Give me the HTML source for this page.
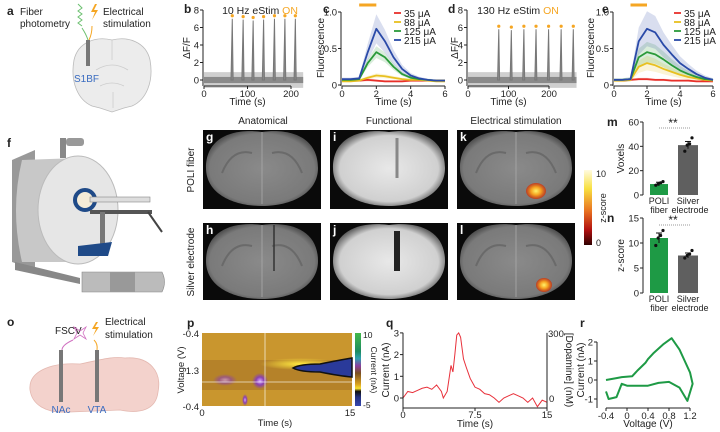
<!DOCTYPE html>
<html><head><meta charset="utf-8"><style>
html,body{margin:0;padding:0;background:#fff;}
svg{display:block;font-family:"Liberation Sans",sans-serif;}
text{fill:#222;}
</style></head><body>
<svg id="fig" width="720" height="432" viewBox="0 0 720 432" xmlns="http://www.w3.org/2000/svg">
<defs>
<radialGradient id="brainG" cx="50%" cy="50%" r="55%"><stop offset="0" stop-color="#8a8a8a"/><stop offset="0.85" stop-color="#7a7a7a"/><stop offset="1" stop-color="#4a4a4a"/></radialGradient>
<radialGradient id="funcG" cx="50%" cy="50%" r="55%"><stop offset="0" stop-color="#e8e8e8"/><stop offset="0.8" stop-color="#d0d0d0"/><stop offset="1" stop-color="#555"/></radialGradient>
<radialGradient id="hotG" cx="50%" cy="50%" r="50%"><stop offset="0" stop-color="#fff36a"/><stop offset="0.5" stop-color="#f5a020"/><stop offset="1" stop-color="#c83010" stop-opacity="0.8"/></radialGradient>
<linearGradient id="zbar" x1="0" y1="0" x2="0" y2="1"><stop offset="0" stop-color="#fffbe0"/><stop offset="0.25" stop-color="#f8e040"/><stop offset="0.55" stop-color="#e87020"/><stop offset="0.8" stop-color="#b01010"/><stop offset="1" stop-color="#300000"/></linearGradient>
<linearGradient id="cbar" x1="0" y1="0" x2="0" y2="1"><stop offset="0" stop-color="#44b84a"/><stop offset="0.25" stop-color="#1c8a60"/><stop offset="0.35" stop-color="#30a0b0"/><stop offset="0.45" stop-color="#8a40a0"/><stop offset="0.55" stop-color="#7a5020"/><stop offset="0.7" stop-color="#d8a020"/><stop offset="0.76" stop-color="#f8e030"/><stop offset="0.8" stop-color="#101010"/><stop offset="0.88" stop-color="#223080"/><stop offset="1" stop-color="#3848b0"/></linearGradient>
<radialGradient id="purp" cx="50%" cy="50%" r="50%"><stop offset="0" stop-color="#d8a8ff"/><stop offset="0.5" stop-color="#8a40b0"/><stop offset="1" stop-color="#8a40b0" stop-opacity="0"/></radialGradient>
<radialGradient id="glow" cx="50%" cy="50%" r="50%"><stop offset="0" stop-color="#ffe840"/><stop offset="1" stop-color="#ffe840" stop-opacity="0"/></radialGradient>
</defs>

<!-- Panel a -->
<g>
<text x="7" y="15" font-size="12" font-weight="bold">a</text>
<text x="20" y="15" font-size="10">Fiber</text>
<text x="20" y="27" font-size="10">photometry</text>
<text x="103" y="15" font-size="10">Electrical</text>
<text x="103" y="27" font-size="10">stimulation</text>
<path d="M78,4 l4,4 -4,3 4,3 -4,3 4,3 -4,3 4,3 M82,28 Q86,34 88,40" fill="none" stroke="#6cc070" stroke-width="1"/>
<path d="M95,4 l-4,8 h4 l-3,8 6,-10 h-4 l3,-6z" fill="#f5a623"/>
<path d="M92,26 Q92,34 89,40" fill="none" stroke="#f5a623" stroke-width="1"/>
<path d="M112,40 C96,36 78,42 74,60 C70,82 78,100 92,106 L100,108 112,112 124,108 132,106 C146,100 154,82 150,60 C146,42 128,36 112,40z" fill="#ececec" stroke="#bbb" stroke-width="0.8"/>
<path d="M112,40 L112,60 M96,70 Q112,60 128,70 M100,86 Q112,80 124,86 M113,92 v16" fill="none" stroke="#ccc" stroke-width="0.8"/>
<rect x="86" y="40" width="4" height="26" fill="#777"/>
<text x="74" y="82" font-size="10" style="fill:#3a6cc0">S1BF</text>
</g>

<!-- Panel f -->
<g>
<text x="7" y="147" font-size="12" font-weight="bold">f</text>
<rect x="60" y="138" width="6" height="20" fill="#888"/>
<rect x="66" y="138" width="18" height="8" fill="#999" rx="3"/>
<path d="M12,160 L35,150 L35,270 L12,262z" fill="#999"/>
<path d="M22,160 Q10,210 22,262 L78,262 L78,158z" fill="#c8c8c8"/>
<ellipse cx="78" cy="210" rx="40" ry="54" fill="#e6e6e6" stroke="#bbb"/>
<circle cx="85" cy="200" r="10" fill="#f5ecd8" stroke="#1f4a88" stroke-width="4"/>
<rect x="90" y="197" width="60" height="5" fill="#ddd" stroke="#888" stroke-width="0.6"/>
<rect x="90" y="210" width="62" height="4" fill="#555"/>
<line x1="148" y1="212" x2="162" y2="232" stroke="#444" stroke-width="2"/>
<rect x="100" y="212" width="5" height="40" fill="#777"/>
<path d="M78,246 L112,242 L108,256 L78,256z" fill="#1f4a88"/>
<path d="M15,262 L80,278 L80,284 L15,270z" fill="#888"/>
<path d="M82,272 h80 q5,10 0,20 h-80z" fill="#bbb" stroke="#888" stroke-width="0.6"/>
<rect x="110" y="272" width="25" height="20" fill="#999"/>
</g>

<text x="263" y="124" font-size="10" text-anchor="middle">Anatomical</text>
<text x="389" y="124" font-size="10" text-anchor="middle">Functional</text>
<text x="516" y="124" font-size="10" text-anchor="middle">Electrical stimulation</text>
<text transform="translate(194,170) rotate(-90)" font-size="10" text-anchor="middle">POLI fiber</text>
<text transform="translate(194,262) rotate(-90)" font-size="10" text-anchor="middle">Silver electrode</text>

<g id="mriGroup"></g>

<rect x="584" y="170" width="8" height="75" fill="url(#zbar)"/>
<text x="596" y="177" font-size="9">10</text>
<text x="596" y="246" font-size="9">0</text>
<text transform="translate(606,208) rotate(-90)" font-size="9" text-anchor="middle">z-score</text>

<!-- Panel o -->
<g>
<text x="7" y="326" font-size="12" font-weight="bold">o</text>
<text x="55" y="334" font-size="10">FSCV</text>
<text x="105" y="325" font-size="10">Electrical</text>
<text x="105" y="338" font-size="10">stimulation</text>
<path d="M74,327 l6,4 6,-4 -3,6 3,6 -6,-4 -6,4 3,-6z" fill="none" stroke="#d070c0" stroke-width="0.8"/>
<path d="M73,340 Q62,345 62,350" fill="none" stroke="#d070c0"/>
<path d="M96,322 l-4,7 h4 l-3,7 6,-9 h-4 l3,-5z" fill="#f5a623"/>
<path d="M94,340 Q98,344 97,350" fill="none" stroke="#f5a623"/>
<path d="M30,390 C28,372 50,362 80,364 C100,360 112,356 125,358 C150,356 162,372 158,392 C156,410 140,414 120,410 L70,412 C45,414 32,404 30,390z" fill="#f3d2cc" stroke="#e4b8b0" stroke-width="0.8"/>
<rect x="59" y="350" width="4" height="52" fill="#777"/>
<rect x="95" y="350" width="4" height="52" fill="#777"/>
<text x="61" y="413" font-size="10" text-anchor="middle" style="fill:#3a6cc0">NAc</text>
<text x="97" y="413" font-size="10" text-anchor="middle" style="fill:#3a6cc0">VTA</text>
</g>

<!-- Panel p heatmap -->
<g>
<text x="187" y="327" font-size="12" font-weight="bold">p</text>
<rect x="202" y="333" width="150" height="73" fill="#c9962e"/>
<rect x="202" y="360" width="150" height="30" fill="#a87426" opacity="0.6"/>
<ellipse cx="225" cy="380" rx="12" ry="6" fill="url(#purp)" opacity="0.6"/>
<ellipse cx="260" cy="381" rx="8" ry="8" fill="url(#purp)"/>
<ellipse cx="245" cy="400" rx="3" ry="6" fill="url(#purp)"/>
<ellipse cx="300" cy="364" rx="40" ry="6" fill="url(#glow)"/>
<path d="M293,368 Q300,364 320,364 Q340,360 352,358 L352,377 Q340,376 320,372 Q300,372 293,368z" fill="#2a3a9a" stroke="#111" stroke-width="1.5"/>
<line x1="265" y1="333" x2="265" y2="406" stroke="#fff" stroke-width="0.8" opacity="0.8"/>
<line x1="202" y1="382" x2="352" y2="382" stroke="#fff" stroke-width="0.8" opacity="0.8"/>
<rect x="355" y="333" width="6" height="73" fill="url(#cbar)"/>
<text x="363" y="338" font-size="8.5">10</text>
<text x="363" y="408" font-size="8.5">-5</text>
<text transform="translate(371,370) rotate(90)" font-size="8.5" text-anchor="middle">Current (nA)</text>
<text x="199" y="337" font-size="9.5" text-anchor="end">-0.4</text>
<text x="199" y="374" font-size="9.5" text-anchor="end">1.3</text>
<text x="199" y="410" font-size="9.5" text-anchor="end">-0.4</text>
<text x="202" y="416" font-size="9.5" text-anchor="middle">0</text>
<text x="350" y="416" font-size="9.5" text-anchor="middle">15</text>
<text x="275" y="426" font-size="9.5" text-anchor="middle">Time (s)</text>
<text transform="translate(184,370) rotate(-90)" font-size="9.5" text-anchor="middle">Voltage (V)</text>
</g>

<g id="charts"></g>
</svg>

<script>
const NS='http://www.w3.org/2000/svg';
const root=document.getElementById('charts');
function mk(tag,attrs,parent,txt){const e=document.createElementNS(NS,tag);for(const k in attrs)e.setAttribute(k,attrs[k]);if(txt!==undefined)e.textContent=txt;(parent||root).appendChild(e);return e;}

// ---------- DATA ----------
const bSpikeTimes=[65,90,113,137,162,186,210];
const bSpikeHeights=[7,6.9,6.8,6.9,7,7,7];
const dSpikeTimes=[76,107,138,168,199,230,260];
const dSpikeHeights=[5.8,5.7,5.8,5.8,5.8,5.8,5.8];
const curveTimes=[0,0.5,1,1.5,2,2.5,3,3.5,4,4.5,5,5.5,6];
const currentLabels=['35 μA','88 μA','125 μA','215 μA'];
const curveColors=['#e8302a','#e8c020','#2a9a3a','#2a4aa8'];
const c35=[0.06,0.06,0.06,0.07,0.06,0.05,0.05,0.05,0.06,0.06,0.06,0.06,0.06];
const c88=[0.05,0.05,0.06,0.10,0.13,0.12,0.10,0.08,0.07,0.07,0.06,0.05,0.05];
const c125=[0.07,0.07,0.08,0.30,0.45,0.38,0.25,0.15,0.10,0.08,0.07,0.06,0.06];
const c215=[0.08,0.08,0.09,0.45,0.77,0.60,0.38,0.22,0.13,0.09,0.07,0.06,0.06];
const cErr=[0.02,0.03,0.08,0.2];
const e35=[0.06,0.06,0.07,0.08,0.08,0.07,0.07,0.06,0.06,0.06,0.05,0.05,0.05];
const e88=[0.06,0.06,0.07,0.25,0.30,0.27,0.22,0.18,0.14,0.11,0.09,0.07,0.06];
const e125=[0.07,0.07,0.08,0.38,0.45,0.42,0.35,0.27,0.20,0.15,0.11,0.08,0.07];
const e215=[0.07,0.07,0.08,0.60,0.77,0.72,0.55,0.42,0.30,0.22,0.15,0.10,0.07];
const eErr=[0.02,0.1,0.14,0.24];
const barGroups=['POLI fiber','Silver electrode'];
const voxelMeans=[9,41];
const voxelErr=[1.5,3];
const voxelPoints=[[8,9,10,11],[36,41,42,47]];
const zMeans=[11,7.5];
const zErr=[1,0.5];
const zPoints=[[9.5,11,11.5,12.5],[7,7.5,7.8,8.5]];
const qTimes=[0,0.5,1,1.5,2,2.5,3,3.5,4,4.2,4.6,5.0,5.2,5.4,5.6,5.8,6.0,6.3,6.6,7.0,7.5,8,8.5,9,9.5,10,10.5,11,11.5,12,12.5,13,13.5,14,14.5,15];
const qCurrent=[0,0.3,0.25,0.35,0.45,0.5,0.4,0.6,0.3,0,0.3,1.5,1.2,2.0,2.9,3.0,2.8,1.8,1.4,0.9,0.5,0.4,0.2,0.15,0,-0.2,0,0.1,0.2,0.1,0,-0.2,0,-0.4,-0.1,-0.2];
const rVoltage=[-0.4,-0.35,-0.2,-0.1,0,0.2,0.4,0.6,0.8,1.0,1.15,1.25,1.2,1.1,1.0,0.85,0.7,0.5,0.4,0.35,0.2,0.1,-0.1,-0.2,-0.4];
const rCurrent=[-0.6,-1.0,-0.9,-0.2,-0.3,-0.3,-0.3,-0.15,-0.1,-0.4,-1.1,-0.2,0.4,1.0,1.6,2.2,1.9,1.4,1.1,0.9,0.5,0.2,0.15,0.1,0.0];

const TF=9.5;
function axisY(g,x,ticks,yf,fmt){mk('line',{x1:x,y1:yf(ticks[ticks.length-1]),x2:x,y2:yf(ticks[0]),stroke:'#222','stroke-width':1},g);
 ticks.forEach(t=>{mk('line',{x1:x-3,y1:yf(t),x2:x,y2:yf(t),stroke:'#222'},g);const tx=mk('text',{x:x-4,y:yf(t)+3.5,'font-size':TF,'text-anchor':'end'},g,fmt?fmt(t):t);});}
function axisX(g,y,ticks,xf,labels){mk('line',{x1:xf(ticks[0]),y1:y,x2:xf(ticks[ticks.length-1]),y2:y,stroke:'#222'},g);
 ticks.forEach((t,i)=>{mk('line',{x1:xf(t),y1:y,x2:xf(t),y2:y+3,stroke:'#222'},g);const tx=mk('text',{x:xf(t),y:y+11,'font-size':TF,'text-anchor':'middle'},g,labels?labels[i]:t);});}
function label(txt,x,y,g,size,rot,name){const t=mk('text',{x:rot?0:x,y:rot?0:y,'font-size':size||10,'text-anchor':'middle'},g,txt);if(rot)t.setAttribute('transform',`translate(${x},${y}) rotate(${rot})`);return t;}

// ---------- spike panels b,d ----------
function spikePanel(letter,x0,scale,times,heights,tmax,ticks,title,titleX,lx,ytx){
 const g=mk('g',{});
 const xf=t=>x0+t*scale, yf=v=>80-v*8.75;
 const pl=mk('text',{x:lx,y:13,'font-size':12,'font-weight':'bold'},g,letter);
 const band=mk('rect',{x:xf(0),y:yf(0.9),width:xf(tmax)-xf(0),height:yf(-0.9)-yf(0.9),fill:'#cfcfcf'},g);
 
 mk('rect',{x:xf(0),y:yf(0.35),width:xf(tmax)-xf(0),height:yf(-0.35)-yf(0.35),fill:'#8a8a8a'},g);
 times.forEach((t,i)=>{const p=mk('path',{d:`M${xf(t-3)},${yf(0)} L${xf(t)},${yf(heights[i])} L${xf(t+2)},${yf(0)}z`,fill:'#888',stroke:'#777','stroke-width':1},g);
  
  const d=mk('circle',{cx:xf(t),cy:yf(heights[i])-3,r:1.6,fill:'#f5a623'},g);
  });
 mk('line',{x1:x0-1,y1:yf(8),x2:x0-1,y2:86,stroke:'#222'},g);
 axisY(g,x0-1,[0,2,4,6,8],yf);axisX(g,86,ticks,xf);
 label('Time (s)',xf(ticks[1]),105,g,10,0,'x-axis-title');
 label('ΔF/F',ytx,48,g,10,-90,'y-axis-title');
 const tt=mk('text',{x:titleX,y:14,'font-size':10.5,'text-anchor':'middle'},g);
 mk('tspan',{},tt,title+' ');mk('tspan',{style:'fill:#f5a623'},tt,'ON');
}
spikePanel('b',204,0.435,bSpikeTimes,bSpikeHeights,228,[0,100,200],'10 Hz eStim',260,184,190);
spikePanel('d',468,0.405,dSpikeTimes,dSpikeHeights,268,[0,100,200],'130 Hz eStim',518,448,458);

// ---------- fluorescence panels c,e ----------
function fluoPanel(letter,x0,x6,series,errs,legX,lx,ytx){
 const g=mk('g',{});
 const xf=t=>x0+t*(x6-x0)/6, yf=v=>85-73*v;
 const pl=mk('text',{x:lx,y:13,'font-size':12,'font-weight':'bold'},g,letter);
 const sb=mk('line',{x1:xf(1),y1:5,x2:xf(2),y2:5,stroke:'#f5a623','stroke-width':3},g);
 series.forEach((s,i)=>{const mx=Math.max(...s);
  const top=s.map((v,j)=>`${xf(curveTimes[j])},${yf(v+errs[i]*v/mx)}`);
  const bot=s.map((v,j)=>`${xf(curveTimes[j])},${yf(Math.max(0,v-errs[i]*v/mx))}`).reverse();
  const b=mk('polygon',{points:top.concat(bot).join(' '),fill:curveColors[i],opacity:0.18},g);
 });
 series.forEach((s,i)=>{const l=mk('polyline',{points:s.map((v,j)=>`${xf(curveTimes[j])},${yf(v)}`).join(' '),fill:'none',stroke:curveColors[i],'stroke-width':1.8,'stroke-linejoin':'round'},g);
  
  const ll=mk('line',{x1:legX-10,y1:16+i*9-3,x2:legX-3,y2:16+i*9-3,stroke:curveColors[i],'stroke-width':1.8},g);
  const lt=mk('text',{x:legX,y:16+i*9+1,'font-size':10},g,currentLabels[i]);});
 mk('line',{x1:x0-1,y1:yf(0),x2:x0-1,y2:86,stroke:'#222'},g);
 axisY(g,x0-1,[0,0.5,1.0],yf,t=>t===0?'0':(t===1?'1.0':t));axisX(g,86,[0,2,4,6],xf);
 label('Time (s)',xf(3),105,g,10,0,'x-axis-title');
 label('Fluorescence',ytx,48,g,10,-90,'y-axis-title');
}
fluoPanel('c',342,445,[c35,c88,c125,c215],cErr,404,323,324);
fluoPanel('e',614,713,[e35,e88,e125,e215],eErr,684,602,594);

// ---------- bar panels m,n ----------
function barPanel(letter,yBase,yTopVal,yTopPx,ticks,means,errs,pts,ytitle,sigY){
 const g=mk('g',{});
 const k=(yBase-yTopPx)/yTopVal, yf=v=>yBase-v*k;
 const xs=[659,688], w=[18,20], cols=['#1e9a45','#5f5f5f'];
 const pl=mk('text',{x:607,y:yTopPx+4,'font-size':12,'font-weight':'bold'},g,letter);
 means.forEach((m,i)=>{const r=mk('rect',{x:xs[i]-w[i]/2,y:yf(m),width:w[i],height:yBase-yf(m),fill:cols[i]},g);
  mk('line',{x1:xs[i],y1:yf(m-errs[i]),x2:xs[i],y2:yf(m+errs[i]),stroke:'#111'},g);
  mk('line',{x1:xs[i]-3,y1:yf(m+errs[i]),x2:xs[i]+3,y2:yf(m+errs[i]),stroke:'#111'},g);
  pts[i].forEach((p,j)=>{const c=mk('circle',{cx:xs[i]+[-4,-1,2,5][j]*0.8,cy:yf(p),r:1.6,fill:'#111'},g);});
  label(barGroups[i].split(' ')[0],xs[i],yBase+9,g,9,0,'group-label');
  label(barGroups[i].split(' ')[1],xs[i]+(i?2:0),yBase+18,g,9,0,'group-label');});
 axisY(g,643,ticks,yf);
 mk('line',{x1:659,y1:sigY,x2:690,y2:sigY,stroke:'#999','stroke-dasharray':'1,1'},g);
 label('**',673,sigY-1,g,12,0,'significance-marker');
 label(ytitle,624,(yBase+yTopPx)/2,g,10,-90,'y-axis-title');
}
barPanel('m',195,60,122,[0,20,40,60],voxelMeans,voxelErr,voxelPoints,'Voxels',128);
barPanel('n',293,15,218,[0,5,10,15],zMeans,zErr,zPoints,'z-score',225);

// ---------- q ----------
(function(){const g=mk('g',{});
 const xf=t=>403+t*(547-403)/15, yf=v=>398-v*21.7;
 const pl=mk('text',{x:386,y:327,'font-size':12,'font-weight':'bold'},g,'q');
 const l=mk('polyline',{points:qTimes.map((t,i)=>`${xf(t)},${yf(qCurrent[i])}`).join(' '),fill:'none',stroke:'#e8303a','stroke-width':1},g);
 
 mk('line',{x1:403,y1:yf(3),x2:403,y2:408,stroke:'#222'},g);
 axisY(g,403,[0,1,2,3],yf);
 mk('line',{x1:403,y1:408,x2:547,y2:408,stroke:'#222'},g);
 [0,7.5,15].forEach(t=>{mk('line',{x1:xf(t),y1:408,x2:xf(t),y2:411,stroke:'#222'},g);const tx=mk('text',{x:xf(t),y:418,'font-size':TF,'text-anchor':'middle'},g,t);});
 mk('line',{x1:547,y1:yf(3),x2:547,y2:408,stroke:'#222'},g);
 const t3=mk('text',{x:548,y:yf(3)+4,'font-size':TF},g,'300');
 const t0=mk('text',{x:549,y:yf(0)+4,'font-size':TF},g,'0');
 label('Time (s)',475,427,g,10,0,'x-axis-title');
 label('Current (nA)',389,370,g,10,-90,'y-axis-title');
 label('[Dopamine] (nM)',566,370,g,10,90,'right-axis-title');
})();

// ---------- r ----------
(function(){const g=mk('g',{});
 const xf=v=>627+v*52.5, yf=c=>380-c*19;
 const pl=mk('text',{x:580,y:327,'font-size':12,'font-weight':'bold'},g,'r');
 const l=mk('polyline',{points:rVoltage.map((v,i)=>`${xf(v)},${yf(rCurrent[i])}`).join(' '),fill:'none',stroke:'#1e9a45','stroke-width':2,'stroke-linejoin':'round'},g);
 
 mk('line',{x1:597,y1:yf(2),x2:597,y2:408,stroke:'#222'},g);
 axisY(g,597,[-1,0,1,2],yf);
 axisX(g,408,[-0.4,0,0.4,0.8,1.2],xf,['-0.4','0','0.4','0.8','1.2']);
 label('Voltage (V)',648,427,g,10,0,'x-axis-title');
 label('Current (nA)',584,370,g,10,-90,'y-axis-title');
})();

// ---------- MRI tiles ----------
(function(){const g=document.getElementById('mriGroup');
 const cols=[203,330,457], rows=[130,223], names=[['g','i','k'],['h','j','l']];
 rows.forEach((ry,ri)=>cols.forEach((cx,ci)=>{
  const b=mk('rect',{x:cx,y:ry,width:118,height:ri?77:79,fill:'#0a0a0a'},g);
  
  const mx=cx+59,my=ry+38;
  const br=mk('path',{d:`M${mx},${my-36} C${mx-30},${my-40} ${mx-56},${my-30} ${mx-56},${my} C${mx-56},${my+25} ${mx-30},${my+38} ${mx},${my+38} C${mx+30},${my+38} ${mx+56},${my+25} ${mx+56},${my} C${mx+56},${my-30} ${mx+30},${my-40} ${mx},${my-36}z`,fill:ci===1?'url(#funcG)':'url(#brainG)'},g);
  
  if(ci!==1){mk('path',{d:`M${mx-40},${my+5} Q${mx-30},${my-20} ${mx-10},${my-15} M${mx+40},${my+5} Q${mx+30},${my-20} ${mx+10},${my-15}`,fill:'none',stroke:'#6a6a6a','stroke-width':2},g);
   mk('line',{x1:mx,y1:my-36,x2:mx,y2:my+36,stroke:'#aaa','stroke-width':0.8},g);}
  else{mk('line',{x1:mx+8,y1:my-30,x2:mx+8,y2:my+10,stroke:ri?'#222':'#888','stroke-width':ri?6:3},g);}
  if(ri===1&&ci===0)mk('line',{x1:mx+12,y1:my-36,x2:mx+12,y2:my+10,stroke:'#333','stroke-width':1.5},g);
  const lt=mk('text',{x:cx+3,y:ry+11,'font-size':12,'font-weight':'bold',style:'fill:#fff'},g,names[ri][ci]);
  
 }));
 const h1=mk('ellipse',{cx:536,cy:191,rx:10,ry:8,fill:'url(#hotG)'},g);
 const h2=mk('ellipse',{cx:544,cy:285,rx:8,ry:7,fill:'url(#hotG)'},g);
})();
</script>
</body></html>
